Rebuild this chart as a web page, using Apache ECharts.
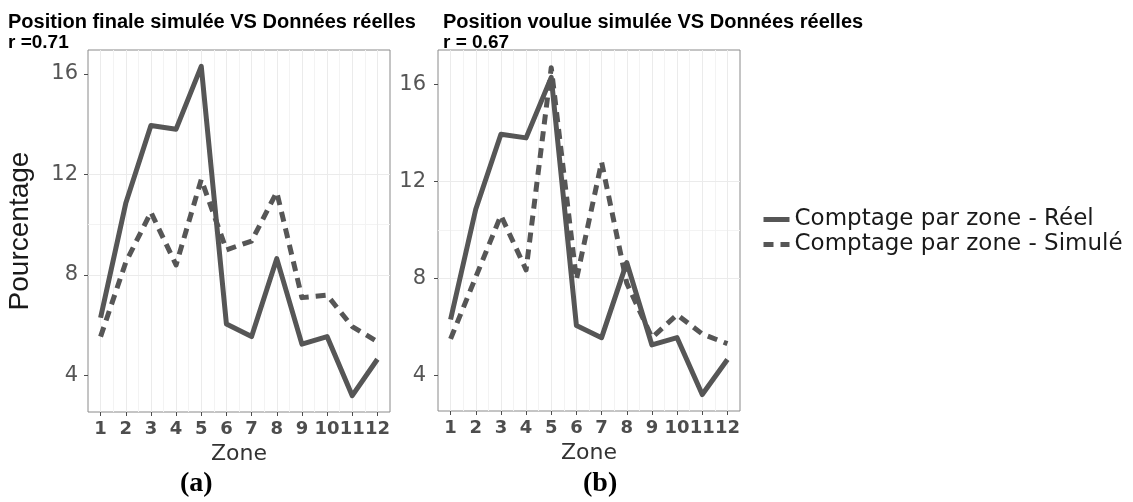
<!DOCTYPE html>
<html>
<head>
<meta charset="utf-8">
<script src="https://cdn.jsdelivr.net/npm/echarts@6/dist/echarts.min.js"></script>
<style>
html,body{margin:0;padding:0;background:#fff;}
#chart{width:1133px;height:502px;}
</style>
</head>
<body>
<div id="chart"></div>
<script>
// ---- data ----
var zones = ['1','2','3','4','5','6','7','8','9','10','11','12'];
var reel = [6.3, 10.85, 13.95, 13.8, 16.3, 6.05, 5.55, 8.65, 5.25, 5.55, 3.2, 4.65];
var simFinale = [5.55, 8.5, 10.5, 8.4, 11.8, 9.0, 9.35, 11.3, 7.1, 7.2, 5.95, 5.35];
var simVoulue = [5.5, 8.05, 10.6, 8.35, 16.7, 7.95, 12.8, 7.8, 5.55, 6.5, 5.7, 5.3];
var yTicks = [4, 8, 12, 16];
var yMinorTicks = [6, 10, 14];
var titleA = 'Position finale simulée VS Données réelles';
var rA = 'r =0.71';
var titleB = 'Position voulue simulée VS Données réelles';
var rB = 'r = 0.67';
var nameReel = 'Comptage par zone - Réel';
var nameSim = 'Comptage par zone - Simulé';
var yRangeA = [2.55, 16.95];
var yRangeB = [2.52, 17.43];

// ---- style ----
var LINE = '#565656';
var GRID_MAJOR = '#ebebeb';
var GRID_MINOR = '#f3f3f3';
var BORDER = '#8a8a8a';
var LABEL = '#4d4d4d';

function catAxis(gi) {
  return {
    type: 'category', gridIndex: gi, data: zones, boundaryGap: true,
    position: 'bottom',
    axisLine: {show: false},
    axisTick: {show: true, alignWithLabel: true, length: 4, lineStyle: {color: LABEL, width: 1}},
    axisLabel: {interval: 0, margin: 8, color: LABEL, fontFamily: 'DejaVu Sans', fontWeight: 'bold', fontSize: 18},
    splitLine: {show: true, interval: 0, showMinLine: false, showMaxLine: false, lineStyle: {color: GRID_MINOR, width: 1}},
    name: 'Zone', nameLocation: 'middle', nameGap: 26,
    nameTextStyle: {fontFamily: 'DejaVu Sans', fontSize: 22, color: '#333'}
  };
}
function majorXAxis(gi) {
  return {
    type: 'value', gridIndex: gi, position: 'bottom', min: 0.5, max: 12.5, minInterval: 1, maxInterval: 1,
    axisLine: {show: false}, axisTick: {show: false}, axisLabel: {show: false},
    splitLine: {show: true, showMinLine: false, showMaxLine: false, lineStyle: {color: GRID_MAJOR, width: 1}}
  };
}
function minorYAxis(gi, r) {
  return {
    type: 'value', gridIndex: gi, position: 'left', min: r[0], max: r[1], minInterval: 2, maxInterval: 2, z: 0,
    axisLine: {show: false}, axisTick: {show: false, customValues: yMinorTicks}, axisLabel: {show: false},
    splitLine: {show: true, showMinLine: false, showMaxLine: false, lineStyle: {color: GRID_MINOR, width: 1}}
  };
}
function majorYAxis(gi, r, margin, name) {
  var ax = {
    type: 'value', gridIndex: gi, position: 'left', min: r[0], max: r[1], minInterval: 4, maxInterval: 4, z: 1,
    axisLine: {show: false},
    axisTick: {show: true, length: 4, customValues: yTicks, lineStyle: {color: LABEL, width: 1}},
    axisLabel: {show: true, customValues: yTicks, margin: margin,
      color: '#555', fontFamily: 'DejaVu Sans', fontSize: 21,
      formatter: function (v) { return (Math.abs(v % 4) < 1e-6) ? String(v) : ''; }},
    splitLine: {show: true, showMinLine: false, showMaxLine: false, lineStyle: {color: GRID_MAJOR, width: 1}}
  };
  if (name) {
    ax.name = name; ax.nameLocation = 'middle'; ax.nameGap = 54; ax.nameRotate = 90;
    ax.nameTextStyle = {fontFamily: 'Liberation Sans', fontSize: 28, color: '#1a1a1a'};
  }
  return ax;
}
function lineSeries(name, data, xi, yi, dashed) {
  return {
    type: 'line', name: name, data: data, xAxisIndex: xi, yAxisIndex: yi,
    symbol: 'none', showSymbol: false, animation: false, z: 3,
    lineStyle: {color: LINE, width: 5, type: dashed ? [10, 7] : 'solid', cap: 'butt', join: 'round'},
    itemStyle: {color: LINE}
  };
}

var titleStyle = {fontFamily: 'Liberation Sans', fontWeight: 'bold', fontSize: 20, color: '#000'};
var rStyle = {fontFamily: 'Liberation Sans', fontWeight: 'bold', fontSize: 19, color: '#000'};

var option = {
  backgroundColor: '#fff',
  animation: false,
  title: [
    {text: titleA, left: 8, top: 12, padding: 0, textStyle: titleStyle},
    {text: rA, left: 8, top: 33, padding: 0, textStyle: rStyle},
    {text: titleB, left: 443, top: 12, padding: 0, textStyle: titleStyle},
    {text: rB, left: 443, top: 33, padding: 0, textStyle: rStyle}
  ],
  legend: {
    orient: 'vertical', left: 761, top: 208, padding: 0,
    itemWidth: 26, itemHeight: 14, itemGap: 2,
    data: [nameReel, nameSim],
    itemStyle: {opacity: 0},
    lineStyle: {width: 5},
    textStyle: {fontFamily: 'DejaVu Sans', fontSize: 23, color: '#1a1a1a'}
  },
  grid: [
    {left: 88, top: 50, width: 302, height: 362, show: true, borderColor: BORDER, borderWidth: 1, backgroundColor: '#fff'},
    {left: 438, top: 50, width: 302, height: 361, show: true, borderColor: BORDER, borderWidth: 1, backgroundColor: '#fff'}
  ],
  xAxis: [catAxis(0), majorXAxis(0), catAxis(1), majorXAxis(1)],
  yAxis: [minorYAxis(0, yRangeA), majorYAxis(0, yRangeA, 10, 'Pourcentage'), minorYAxis(1, yRangeB), majorYAxis(1, yRangeB, 12, null)],
  series: [
    lineSeries(nameReel, reel, 0, 1, false),
    lineSeries(nameSim, simFinale, 0, 1, true),
    lineSeries(nameReel, reel, 2, 3, false),
    lineSeries(nameSim, simVoulue, 2, 3, true)
  ],
  graphic: [
    {type: 'text', left: 180, top: 470, style: {text: '(a)', font: 'bold 28px "Liberation Serif"', fill: '#000'}},
    {type: 'text', left: 583, top: 470, style: {text: '(b)', font: 'bold 28px "Liberation Serif"', fill: '#000'}}
  ]
};
var chart = echarts.init(document.getElementById('chart'), null, {renderer: 'canvas'});
chart.setOption(option);
</script>
</body>
</html>
